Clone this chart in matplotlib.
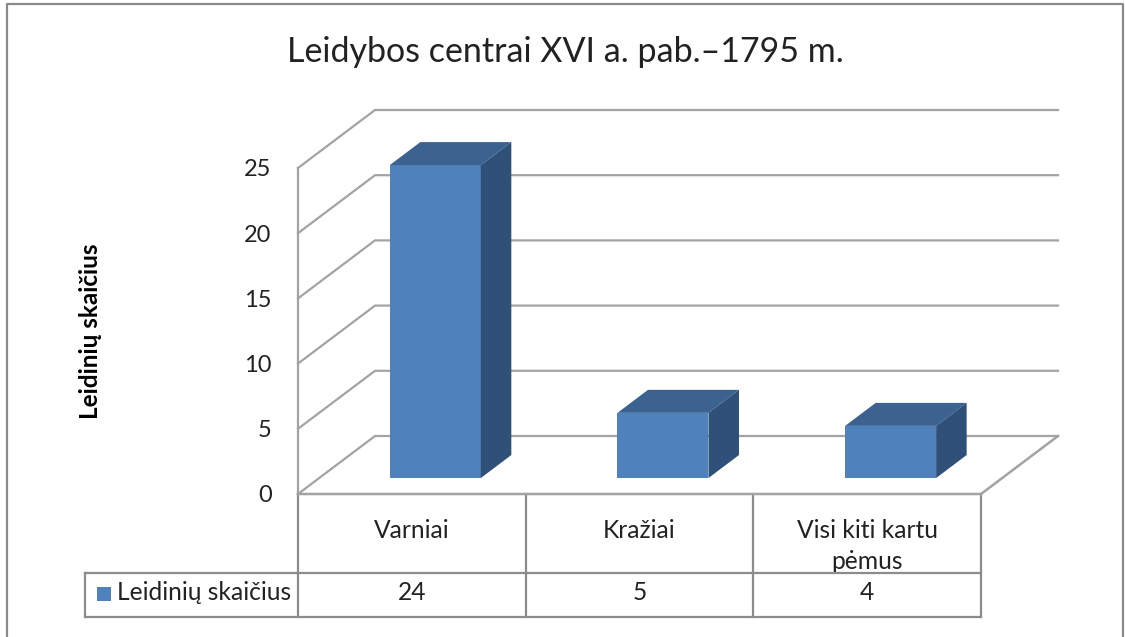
import matplotlib
matplotlib.use("Agg")
import matplotlib.pyplot as plt
from matplotlib.patches import Polygon, Rectangle

plt.rcParams['font.family'] = ['Lato', 'Open Sans', 'DejaVu Sans']

# datos
categorias = ["Varniai", "Kražiai", "Visi kiti kartu\npėmus"]
valores = [24, 5, 4]
serie = "Leidinių skaičius"
ticks_y = [0, 5, 10, 15, 20, 25]
titulo = "Leidybos centrai XVI a. pab.–1795 m."

W, H = 1125, 637
GRIS = "#a3a3a3"
GRIS_T = "#8c8c8c"
NEGRO = "#222222"

fig = plt.figure(figsize=(W/100, H/100), dpi=100, facecolor="white")

# capa en pixeles para marco y tabla
fondo = fig.add_axes([0, 0, 1, 1])
fondo.set_xlim(0, W)
fondo.set_ylim(H, 0)
fondo.axis("off")

# marco exterior (sigue hasta abajo de la imagen)
fondo.plot([7, 7, 1123, 1123], [H, 4, 4, H], color="#8a8a8a", lw=1.6)

# ejes principales: x en categorias, y en valores (plano frontal)
x0, x1, y0, y1 = 298, 981, 494, 168
ax = fig.add_axes([x0/W, 1-y0/H, (x1-x0)/W, (y0-y1)/H])
ax.set_xlim(0, 3)
ax.set_ylim(0, 25)
ax.patch.set_alpha(0)
for s in ax.spines.values():
    s.set_visible(False)
ax.set_xticks([])
ax.set_yticks(ticks_y)
ax.tick_params(axis="y", length=0, pad=19, labelsize=17, labelcolor=NEGRO)

# profundidad de la caja en unidades de datos
px_x = (x1-x0)/3.0
px_y = (y0-y1)/25.0
DX = 77/px_x
DY = 58/px_y

for t in ticks_y:
    ax.plot([0, DX, 3+DX], [t, t+DY, t+DY], color=GRIS, lw=1.6, clip_on=False, zorder=1)
ax.plot([0, 0], [0, 25], color=GRIS, lw=1.6, clip_on=False, zorder=1)
# piso
ax.plot([0, 3, 3+DX], [0, 0, DY], color=GRIS, lw=1.8, clip_on=False, zorder=1)

# barras 3d
ancho = 91/px_x
d_ini = 0.275
d_fin = 23/58
for i, v in enumerate(valores):
    xa = i+0.51-ancho/2
    xb = xa+ancho
    ox = DX*d_ini
    oy = DY*d_ini
    sx = DX*d_fin
    sy = DY*d_fin
    ax.add_patch(Polygon([(xa+ox, oy), (xb+ox, oy), (xb+ox, oy+v), (xa+ox, oy+v)],
                         fc="#4f81bd", ec="none", clip_on=False, zorder=3))
    ax.add_patch(Polygon([(xa+ox, oy+v), (xb+ox, oy+v), (xb+ox+sx, oy+v+sy), (xa+ox+sx, oy+v+sy)],
                         fc="#3c6290", ec="none", clip_on=False, zorder=3))
    ax.add_patch(Polygon([(xb+ox, oy), (xb+ox+sx, oy+sy), (xb+ox+sx, oy+v+sy), (xb+ox, oy+v)],
                         fc="#2f5078", ec="none", clip_on=False, zorder=3))

# tabla de datos
tab_izq, tab_med, tab_inf = 85, 573, 617
fondo.plot([tab_izq, x1], [tab_med, tab_med], color=GRIS_T, lw=1.6, zorder=4)
fondo.plot([tab_izq, x1], [tab_inf, tab_inf], color=GRIS_T, lw=1.6, zorder=4)
fondo.plot([tab_izq, tab_izq], [tab_med, tab_inf], color=GRIS_T, lw=1.6, zorder=4)
for i in range(4):
    xc = x0+i*px_x
    fondo.plot([xc, xc], [y0, tab_inf], color=GRIS_T, lw=1.6, zorder=4)
for i, (c, v) in enumerate(zip(categorias, valores)):
    xc = x0+(i+0.5)*px_x
    yc = 546 if "\n" in c else 530
    fondo.text(xc, yc, c, ha="center", va="center", fontsize=17.7, color=NEGRO, linespacing=1.45)
    fondo.text(xc, 593, str(v), ha="center", va="center", fontsize=17.7, color=NEGRO)
fondo.add_patch(Rectangle((97, 587), 14, 14, fc="#4f81bd", ec="none"))
fondo.text(117, 593, serie, ha="left", va="center", fontsize=17.7, color=NEGRO)

fondo.text(565, 52, titulo, ha="center", va="center", fontsize=24.5, color=NEGRO)
fondo.text(90, 331, serie, ha="center", va="center", rotation=90, fontsize=17.5,
           fontweight="bold", color="black")

fig.savefig("out.png", dpi=100)
